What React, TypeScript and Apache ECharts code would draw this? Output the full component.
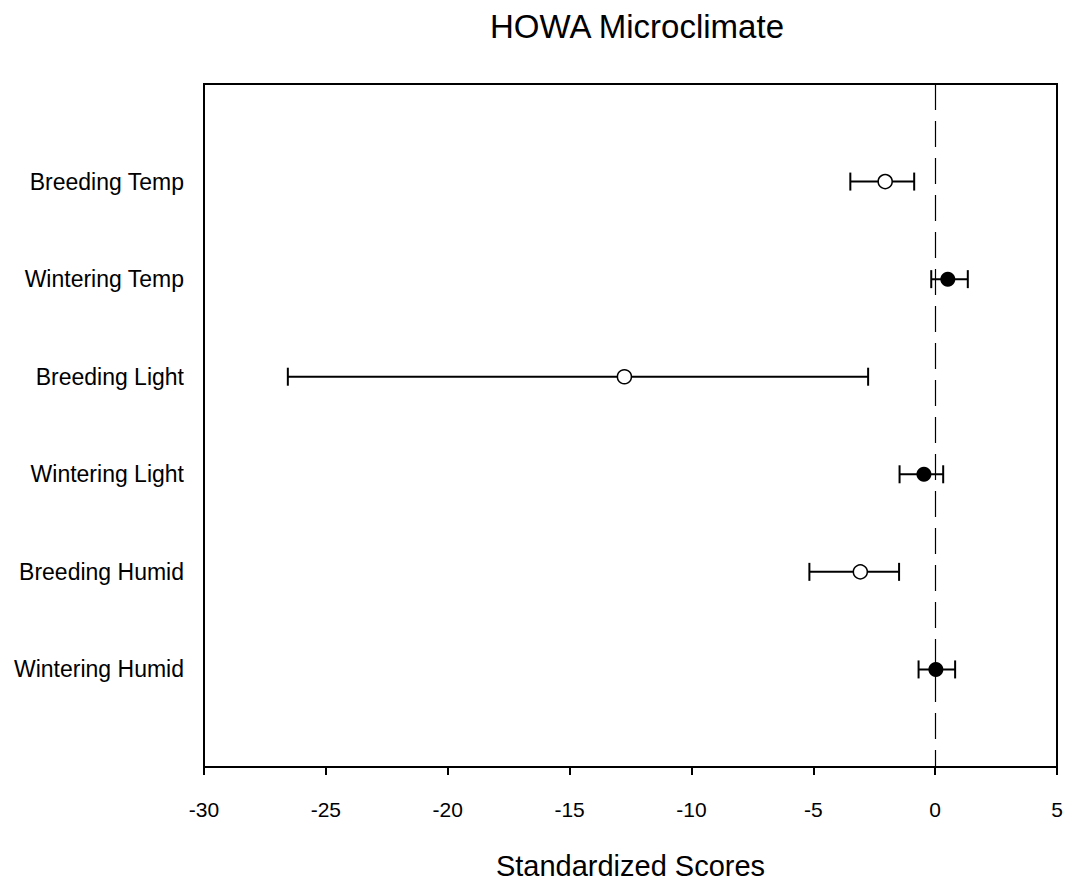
import React, { useEffect, useRef } from "react";
import * as echarts from "echarts";

const categories = [
  "Breeding Temp",
  "Wintering Temp",
  "Breeding Light",
  "Wintering Light",
  "Breeding Humid",
  "Wintering Humid",
];
const means = [-2.05, 0.52, -12.75, -0.46, -3.07, 0.03];
const lower = [-3.48, -0.16, -26.56, -1.46, -5.16, -0.68];
const upper = [-0.86, 1.34, -2.75, 0.33, -1.48, 0.82];
const filled = [false, true, false, true, false, true];
const xTicks = [-30, -25, -20, -15, -10, -5, 0, 5];

const FONT = "Liberation Sans, Arial, sans-serif";

export default function App() {
  const ref = useRef<HTMLDivElement>(null);
  useEffect(() => {
    if (!ref.current) return;
    const chart = echarts.init(ref.current, null, { renderer: "svg" });
    const errData = categories.map((_, i) => [i + 1, lower[i], upper[i]]);
    const openPts = categories
      .map((_, i) => [means[i], i + 1])
      .filter((_, i) => !filled[i]);
    const filledPts = categories
      .map((_, i) => [means[i], i + 1])
      .filter((_, i) => filled[i]);
    chart.setOption({
      animation: false,
      backgroundColor: "#fff",
      title: {
        text: "HOWA Microclimate",
        left: 632,
        top: 5,
        textAlign: "center",
        textStyle: { fontFamily: FONT, fontSize: 33, fontWeight: "normal", color: "#000" },
      },
      grid: {
        left: 204,
        top: 84,
        right: 16,
        bottom: 121,
        show: true,
        borderColor: "#000",
        borderWidth: 2,
        backgroundColor: "transparent",
      },
      xAxis: {
        type: "value",
        min: xTicks[0],
        max: xTicks[xTicks.length - 1],
        interval: 5,
        name: "Standardized Scores",
        nameLocation: "middle",
        nameGap: 84,
        nameTextStyle: { fontFamily: FONT, fontSize: 29, color: "#000" },
        axisLine: { show: true, onZero: false, lineStyle: { color: "#000", width: 2 } },
        axisTick: { show: true, length: 8, lineStyle: { color: "#000", width: 2 } },
        axisLabel: { fontFamily: FONT, fontSize: 21, color: "#000", margin: 32 },
        splitLine: { show: false },
      },
      yAxis: {
        type: "value",
        min: 0,
        max: 7,
        interval: 1,
        inverse: true,
        axisLine: { show: true, onZero: false, lineStyle: { color: "#000", width: 2 } },
        axisTick: { show: false },
        splitLine: { show: false },
        axisLabel: {
          fontFamily: FONT,
          fontSize: 23,
          color: "#000",
          margin: 20,
          formatter: (v: number) => (v >= 1 && v <= categories.length ? categories[v - 1] : ""),
        },
      },
      series: [
        {
          type: "custom",
          renderItem: (params: any, api: any) => {
            const y = api.value(0);
            const lo = api.coord([api.value(1), y]);
            const hi = api.coord([api.value(2), y]);
            const h = 9;
            const style = { stroke: "#000", lineWidth: 2, fill: "none" };
            return {
              type: "group",
              children: [
                { type: "line", shape: { x1: lo[0], y1: lo[1], x2: hi[0], y2: hi[1] }, style },
                { type: "line", shape: { x1: lo[0], y1: lo[1] - h, x2: lo[0], y2: lo[1] + h }, style },
                { type: "line", shape: { x1: hi[0], y1: hi[1] - h, x2: hi[0], y2: hi[1] + h }, style },
              ],
            };
          },
          encode: { x: [1, 2], y: 0 },
          data: errData,
          z: 2,
        },
        {
          type: "scatter",
          data: openPts,
          symbol: "circle",
          symbolSize: 14,
          itemStyle: { color: "#fff", borderColor: "#000", borderWidth: 1.5, opacity: 1 },
          z: 3,
          markLine: {
            silent: true,
            symbol: "none",
            label: { show: false },
            lineStyle: { color: "#000", width: 1.2, type: [26, 11] },
            data: [{ xAxis: 0 }],
          },
        },
        {
          type: "scatter",
          data: filledPts,
          symbol: "circle",
          symbolSize: 15,
          itemStyle: { color: "#000", borderColor: "#000", borderWidth: 0, opacity: 1 },
          z: 3,
        },
      ],
    });
    return () => chart.dispose();
  }, []);
  return (
    <div
      ref={ref}
      style={{ position: "fixed", left: 0, top: 0, width: 1073, height: 888, background: "#fff" }}
    />
  );
}
